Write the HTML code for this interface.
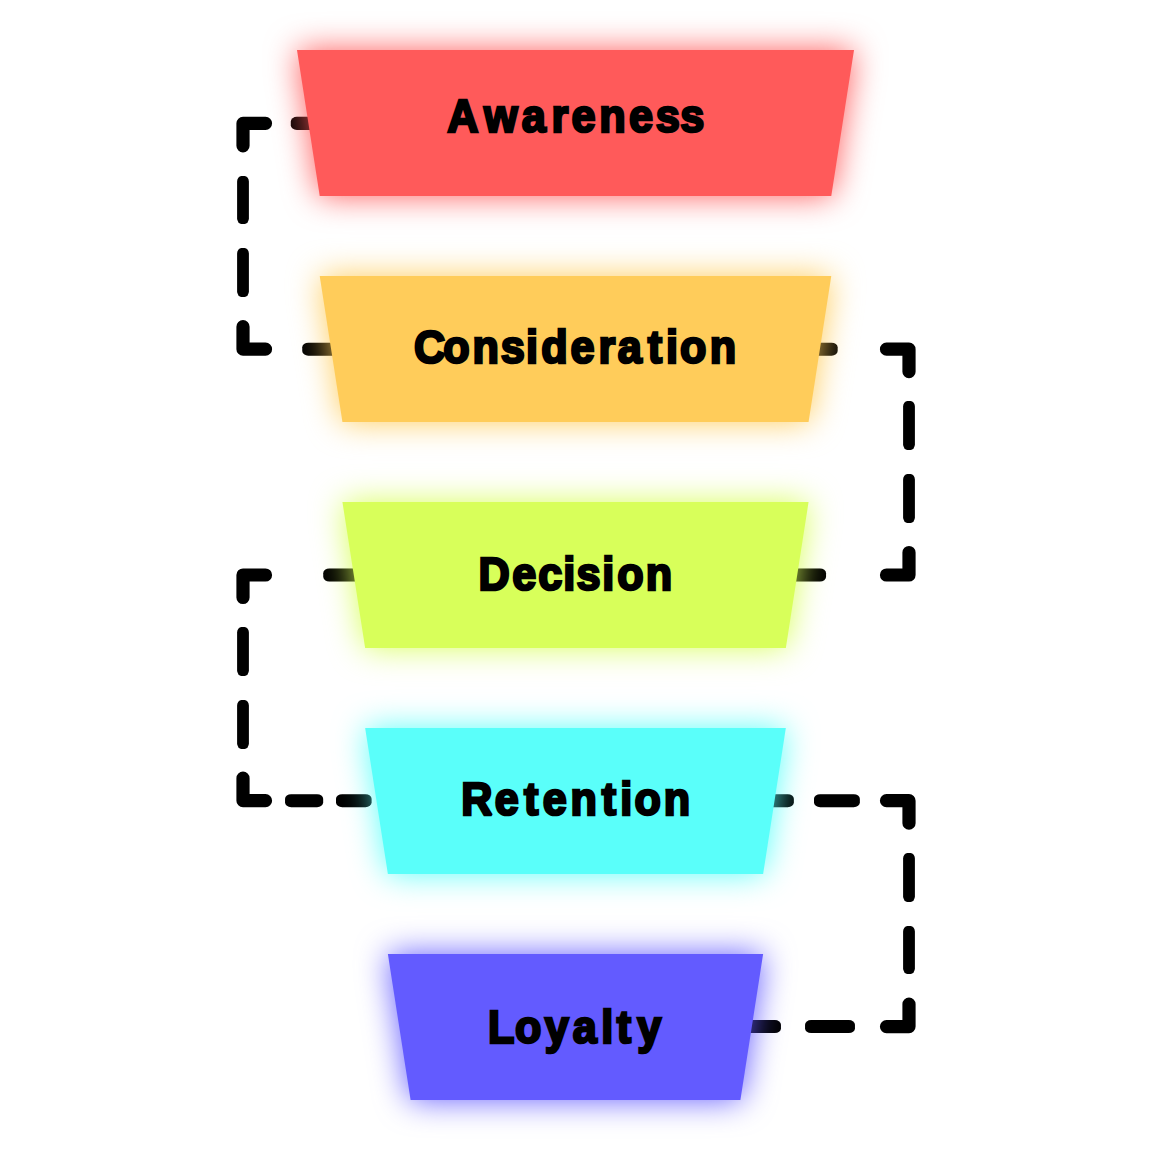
<!DOCTYPE html>
<html lang="en">
<head>
<meta charset="utf-8">
<title>Customer Journey Funnel</title>
<style>
html,body{margin:0;padding:0;background:#fff;}
body{width:1150px;height:1150px;overflow:hidden;}
svg{display:block;}
text{font-family:"Liberation Sans",sans-serif;font-weight:700;fill:#000;}
</style>
</head>
<body>
<svg width="1150" height="1150" viewBox="0 0 1150 1150">
<defs>
<filter id="glow" x="-20%" y="-60%" width="140%" height="220%" color-interpolation-filters="sRGB"><feGaussianBlur in="SourceGraphic" stdDeviation="16"/></filter>
</defs>
<rect width="1150" height="1150" fill="#ffffff"/>
<g fill="#000" stroke="none">
<rect x="237.1" y="176.1" width="11.8" height="47.8" rx="4.25" ry="5.55"/>
<rect x="237.1" y="248.1" width="11.8" height="48.8" rx="4.25" ry="5.55"/>
<rect x="290.8" y="116.8" width="45.75" height="13.1" rx="6.16" ry="4.72"/>
<rect x="302.25" y="342.65" width="49.3" height="13.1" rx="6.16" ry="4.72"/>
<rect x="903.1" y="401" width="11.8" height="48.9" rx="4.25" ry="5.55"/>
<rect x="903.1" y="474.1" width="11.8" height="48.8" rx="4.25" ry="5.55"/>
<rect x="793.45" y="342.65" width="44.2" height="13.1" rx="6.16" ry="4.72"/>
<rect x="773.45" y="568.45" width="52.6" height="13.1" rx="6.16" ry="4.72"/>
<rect x="237.1" y="627" width="11.8" height="48.9" rx="4.25" ry="5.55"/>
<rect x="237.1" y="700.1" width="11.8" height="48.8" rx="4.25" ry="5.55"/>
<rect x="323.25" y="568.45" width="53.3" height="13.1" rx="6.16" ry="4.72"/>
<rect x="285.05" y="794.15" width="38.1" height="13.1" rx="6.16" ry="4.72"/>
<rect x="336" y="794.15" width="35.6" height="13.1" rx="6.16" ry="4.72"/>
<rect x="903.1" y="853" width="11.8" height="48.9" rx="4.25" ry="5.55"/>
<rect x="903.1" y="926.1" width="11.8" height="47.8" rx="4.25" ry="5.55"/>
<rect x="763.45" y="794.15" width="30.4" height="13.1" rx="6.16" ry="4.72"/>
<rect x="814" y="794.15" width="45.85" height="13.1" rx="6.16" ry="4.72"/>
<rect x="738.45" y="1020" width="42.5" height="13.1" rx="6.16" ry="4.72"/>
<rect x="805.05" y="1020" width="49.9" height="13.1" rx="6.16" ry="4.72"/>
<path fill="none" stroke="#000" stroke-linecap="round" stroke-linejoin="round" stroke-width="13.2" d="M265.5 123.35L243 123.35L243 145.85"/>
<path fill="none" stroke="#000" stroke-linecap="round" stroke-linejoin="round" stroke-width="13.2" d="M265.5 349.2L243 349.2L243 326.7"/>
<path fill="none" stroke="#000" stroke-linecap="round" stroke-linejoin="round" stroke-width="13.2" d="M886.5 349.2L909 349.2L909 371.7"/>
<path fill="none" stroke="#000" stroke-linecap="round" stroke-linejoin="round" stroke-width="13.2" d="M886.5 575L909 575L909 552.5"/>
<path fill="none" stroke="#000" stroke-linecap="round" stroke-linejoin="round" stroke-width="13.2" d="M265.5 575L243 575L243 597.5"/>
<path fill="none" stroke="#000" stroke-linecap="round" stroke-linejoin="round" stroke-width="13.2" d="M265.5 800.7L243 800.7L243 778.2"/>
<path fill="none" stroke="#000" stroke-linecap="round" stroke-linejoin="round" stroke-width="13.2" d="M886.5 800.7L909 800.7L909 823.2"/>
<path fill="none" stroke="#000" stroke-linecap="round" stroke-linejoin="round" stroke-width="13.2" d="M886.5 1026.55L909 1026.55L909 1004.05"/>
</g>
<path d="M297.0 50L854.0 50L831.28 196L319.72 196Z" fill="#ff5a5a" filter="url(#glow)"/>
<path d="M319.72 276L831.28 276L808.56 422L342.44 422Z" fill="#ffcc5a" filter="url(#glow)"/>
<path d="M342.44 502L808.56 502L785.84 648L365.16 648Z" fill="#d8ff5a" filter="url(#glow)"/>
<path d="M365.16 728L785.84 728L763.12 874L387.88 874Z" fill="#5afffa" filter="url(#glow)"/>
<path d="M387.88 954L763.12 954L740.4 1100L410.6 1100Z" fill="#635bff" filter="url(#glow)"/>
<g fill="#000" stroke="none" opacity="0.1">
<rect x="290.8" y="116.8" width="45.75" height="13.1" rx="6.16" ry="4.72"/>
<rect x="302.25" y="342.65" width="49.3" height="13.1" rx="6.16" ry="4.72"/>
<rect x="793.45" y="342.65" width="44.2" height="13.1" rx="6.16" ry="4.72"/>
<rect x="773.45" y="568.45" width="52.6" height="13.1" rx="6.16" ry="4.72"/>
<rect x="323.25" y="568.45" width="53.3" height="13.1" rx="6.16" ry="4.72"/>
<rect x="285.05" y="794.15" width="38.1" height="13.1" rx="6.16" ry="4.72"/>
<rect x="336" y="794.15" width="35.6" height="13.1" rx="6.16" ry="4.72"/>
<rect x="763.45" y="794.15" width="30.4" height="13.1" rx="6.16" ry="4.72"/>
<rect x="814" y="794.15" width="45.85" height="13.1" rx="6.16" ry="4.72"/>
<rect x="738.45" y="1020" width="42.5" height="13.1" rx="6.16" ry="4.72"/>
<rect x="805.05" y="1020" width="49.9" height="13.1" rx="6.16" ry="4.72"/>
</g>
<path d="M297.0 50L854.0 50L831.28 196L319.72 196Z" fill="#ff5a5a"/>
<path d="M319.72 276L831.28 276L808.56 422L342.44 422Z" fill="#ffcc5a"/>
<path d="M342.44 502L808.56 502L785.84 648L365.16 648Z" fill="#d8ff5a"/>
<path d="M365.16 728L785.84 728L763.12 874L387.88 874Z" fill="#5afffa"/>
<path d="M387.88 954L763.12 954L740.4 1100L410.6 1100Z" fill="#635bff"/>
<text transform="translate(0 131.75) scale(0.9200 1.0000)" x="486.18 526.15 567.16 599.59 621.21 651.49 683.82 712.90 739.35" y="0" font-size="47" stroke="#000" stroke-width="2.6" stroke-linejoin="miter" stroke-miterlimit="2">Awareness</text>
<text transform="translate(0 363.25) scale(0.9200 1.0000)" x="450.09 481.82 513.72 544.42 571.71 588.41 620.01 650.67 671.40 703.99 723.88 739.21 771.51" y="0" font-size="47" stroke="#000" stroke-width="2.6" stroke-linejoin="miter" stroke-miterlimit="2">Consideration</text>
<text transform="translate(0 590.45) scale(0.9200 1.0000)" x="520.02 556.91 585.16 612.14 626.65 654.64 670.84 701.81" y="0" font-size="47" stroke="#000" stroke-width="2.6" stroke-linejoin="miter" stroke-miterlimit="2">Decision</text>
<text transform="translate(0 815.45) scale(0.9200 1.0000)" x="501.36 537.73 569.48 589.85 620.08 654.10 674.15 689.54 721.40" y="0" font-size="47" stroke="#000" stroke-width="2.6" stroke-linejoin="miter" stroke-miterlimit="2">Retention</text>
<text transform="translate(0 1042.55) scale(0.9200 1.0000)" x="530.53 559.81 592.04 622.43 653.45 670.40 692.71" y="0" font-size="47" stroke="#000" stroke-width="2.6" stroke-linejoin="miter" stroke-miterlimit="2">Loyalty</text>
</svg>
</body>
</html>
